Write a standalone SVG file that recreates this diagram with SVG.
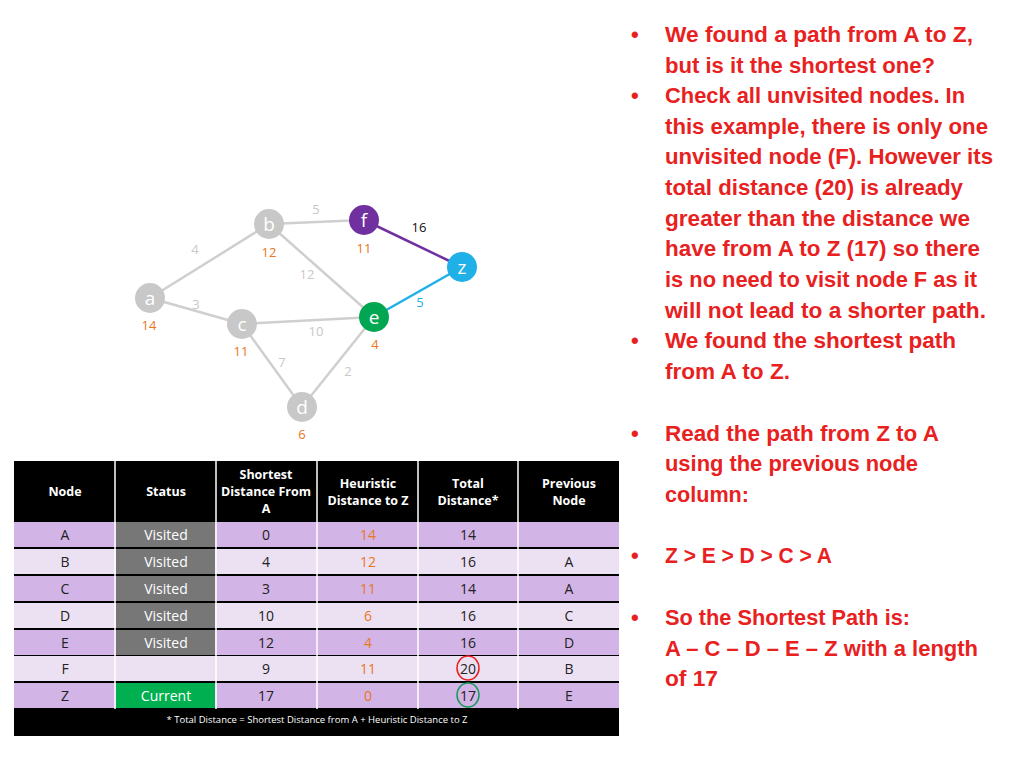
<svg xmlns="http://www.w3.org/2000/svg" width="1024" height="768" viewBox="0 0 1024 768">
<style>
.r{font-family:"Liberation Sans",Arial,sans-serif;font-weight:bold;font-size:22px;fill:#e8211f}
.n{font-family:"Open Sans","Liberation Sans",sans-serif;font-size:19px;fill:#fff;text-anchor:middle}
.w{font-family:"Open Sans","Liberation Sans",sans-serif;font-size:13px;fill:#c8c8c8;text-anchor:middle}
.h{font-family:"Open Sans","Liberation Sans",sans-serif;font-size:13px;fill:#e87722;text-anchor:middle}
.e{stroke:#cfcfcf;stroke-width:2.5;fill:none}
.th{font-family:"Open Sans","Liberation Sans",sans-serif;font-size:12.5px;font-weight:bold;fill:#fff;text-anchor:middle}
.td{font-family:"Open Sans","Liberation Sans",sans-serif;font-size:14px;fill:#222;text-anchor:middle}
</style>
<rect width="1024" height="768" fill="#fff"/>
<g id="connectors">
<line class="e" x1="150" y1="298" x2="269" y2="224"/>
<line class="e" x1="150" y1="298" x2="242" y2="324"/>
<line class="e" x1="269" y1="224" x2="364" y2="220"/>
<line class="e" x1="269" y1="224" x2="374" y2="317"/>
<line class="e" x1="242" y1="324" x2="374" y2="317"/>
<line class="e" x1="242" y1="324" x2="302" y2="407"/>
<line class="e" x1="302" y1="407" x2="374" y2="317"/>
<line x1="364" y1="220" x2="462" y2="267" stroke="#7030a0" stroke-width="2.5"/>
<line x1="374" y1="317" x2="462" y2="267" stroke="#1fb0e8" stroke-width="2.5"/>
<text class="w" x="195" y="254">4</text>
<text class="w" x="196" y="309">3</text>
<text class="w" x="316" y="214">5</text>
<text class="w" x="307" y="279">12</text>
<text class="w" x="316" y="336">10</text>
<text class="w" x="282" y="367">7</text>
<text class="w" x="348" y="376">2</text>
<text x="419" y="232" font-family="Open Sans,Liberation Sans,sans-serif" font-size="13" fill="#111" text-anchor="middle">16</text>
<text x="420" y="307" font-family="Open Sans,Liberation Sans,sans-serif" font-size="13" fill="#1fb0e8" text-anchor="middle">5</text>
</g>
<g id="node-a"><circle cx="150" cy="298" r="15" fill="#c8c8c8"/><text class="n" x="150" y="305">a</text><text class="h" x="149" y="330">14</text></g>
<g id="node-b"><circle cx="269" cy="224" r="15" fill="#c8c8c8"/><text class="n" x="269" y="231">b</text><text class="h" x="269" y="257">12</text></g>
<g id="node-f"><circle cx="364" cy="220" r="15" fill="#7030a0"/><text class="n" x="364" y="227">f</text><text class="h" x="364" y="253">11</text></g>
<g id="node-z"><circle cx="462" cy="267" r="15" fill="#1fb0e8"/><text class="n" x="462" y="274">z</text></g>
<g id="node-e"><circle cx="374" cy="317" r="15" fill="#00a651"/><text class="n" x="374" y="324">e</text><text class="h" x="375" y="349">4</text></g>
<g id="node-c"><circle cx="242" cy="324" r="15" fill="#c8c8c8"/><text class="n" x="242" y="331">c</text><text class="h" x="241" y="356">11</text></g>
<g id="node-d"><circle cx="302" cy="407" r="15" fill="#c8c8c8"/><text class="n" x="302" y="414">d</text><text class="h" x="302" y="439">6</text></g>
<g id="table">
<rect x="14" y="461" width="605" height="275" fill="#000"/>
<g fill="#d3b4e6">
<rect x="14" y="522" width="605" height="25"/><rect x="14" y="576" width="605" height="25"/><rect x="14" y="630" width="605" height="25"/><rect x="14" y="683" width="605" height="25"/>
</g>
<g fill="#ece1f3">
<rect x="14" y="549" width="605" height="25"/><rect x="14" y="603" width="605" height="25"/><rect x="14" y="656" width="605" height="25"/>
</g>
<g fill="#777">
<rect x="116" y="522" width="99" height="25"/><rect x="116" y="549" width="99" height="25"/><rect x="116" y="576" width="99" height="25"/><rect x="116" y="603" width="99" height="25"/><rect x="116" y="630" width="99" height="25"/>
</g>
<rect x="116" y="683" width="99" height="25" fill="#00b050"/>
<g stroke="#fff" stroke-width="1.5">
<line x1="115" y1="461" x2="115" y2="709"/><line x1="216" y1="461" x2="216" y2="709"/><line x1="317" y1="461" x2="317" y2="709"/><line x1="418" y1="461" x2="418" y2="709"/><line x1="518" y1="461" x2="518" y2="709"/>
</g>
<text class="th" x="65" y="496">Node</text>
<text class="th" x="166" y="496">Status</text>
<text class="th" x="266" y="479">Shortest</text><text class="th" x="266" y="496">Distance From</text><text class="th" x="266" y="513">A</text>
<text class="th" x="368" y="488">Heuristic</text><text class="th" x="368" y="505">Distance to Z</text>
<text class="th" x="468" y="488">Total</text><text class="th" x="468" y="505">Distance*</text>
<text class="th" x="569" y="488">Previous</text><text class="th" x="569" y="505">Node</text>
<g>
<text class="td" x="65" y="540">A</text><text class="td" x="266" y="540">0</text><text class="td" x="468" y="540">14</text>
<text class="td" x="65" y="567">B</text><text class="td" x="266" y="567">4</text><text class="td" x="468" y="567">16</text><text class="td" x="569" y="567">A</text>
<text class="td" x="65" y="594">C</text><text class="td" x="266" y="594">3</text><text class="td" x="468" y="594">14</text><text class="td" x="569" y="594">A</text>
<text class="td" x="65" y="621">D</text><text class="td" x="266" y="621">10</text><text class="td" x="468" y="621">16</text><text class="td" x="569" y="621">C</text>
<text class="td" x="65" y="648">E</text><text class="td" x="266" y="648">12</text><text class="td" x="468" y="648">16</text><text class="td" x="569" y="648">D</text>
<text class="td" x="65" y="674">F</text><text class="td" x="266" y="674">9</text><text class="td" x="468" y="674">20</text><text class="td" x="569" y="674">B</text>
<text class="td" x="65" y="701">Z</text><text class="td" x="266" y="701">17</text><text class="td" x="468" y="701">17</text><text class="td" x="569" y="701">E</text>
</g>
<g font-family="Open Sans,Liberation Sans,sans-serif" font-size="14" fill="#e87722" text-anchor="middle">
<text x="368" y="540">14</text><text x="368" y="567">12</text><text x="368" y="594">11</text><text x="368" y="621">6</text><text x="368" y="648">4</text><text x="368" y="674">11</text><text x="368" y="701">0</text>
</g>
<g fill="#fff" font-family="Open Sans,Liberation Sans,sans-serif" font-size="14" text-anchor="middle">
<text x="166" y="540">Visited</text><text x="166" y="567">Visited</text><text x="166" y="594">Visited</text><text x="166" y="621">Visited</text><text x="166" y="648">Visited</text><text x="166" y="701">Current</text>
</g>
<ellipse cx="468" cy="668" rx="11" ry="12" fill="none" stroke="#e8211f" stroke-width="1.5"/>
<ellipse cx="468" cy="695" rx="11" ry="12" fill="none" stroke="#1a9a5a" stroke-width="1.5"/>
<text x="317" y="723" font-family="Open Sans,Liberation Sans,sans-serif" font-size="9.5" fill="#fff" text-anchor="middle">* Total Distance = Shortest Distance from A  +  Heuristic Distance to Z</text>
</g>
<g id="text">
<g class="r">
<text x="631" y="42">•</text><text x="665" y="42" textLength="308" lengthAdjust="spacingAndGlyphs">We found a path from A to Z,</text>
<text x="665" y="73" textLength="270" lengthAdjust="spacingAndGlyphs">but is it the shortest one?</text>
<text x="631" y="103">•</text><text x="665" y="103" textLength="300" lengthAdjust="spacingAndGlyphs">Check all unvisited nodes. In</text>
<text x="665" y="134" textLength="323" lengthAdjust="spacingAndGlyphs">this example, there is only one</text>
<text x="665" y="164" textLength="328" lengthAdjust="spacingAndGlyphs">unvisited node (F). However its</text>
<text x="665" y="195" textLength="298" lengthAdjust="spacingAndGlyphs">total distance (20) is already</text>
<text x="665" y="226" textLength="305" lengthAdjust="spacingAndGlyphs">greater than the distance we</text>
<text x="665" y="256" textLength="315" lengthAdjust="spacingAndGlyphs">have from A to Z (17) so there</text>
<text x="665" y="287" textLength="312" lengthAdjust="spacingAndGlyphs">is no need to visit node F as it</text>
<text x="665" y="318" textLength="321" lengthAdjust="spacingAndGlyphs">will not lead to a shorter path.</text>
<text x="631" y="348">•</text><text x="665" y="348" textLength="291" lengthAdjust="spacingAndGlyphs">We found the shortest path</text>
<text x="665" y="379" textLength="125" lengthAdjust="spacingAndGlyphs">from A to Z.</text>
<text x="631" y="441">•</text><text x="665" y="441" textLength="274" lengthAdjust="spacingAndGlyphs">Read the path from Z to A</text>
<text x="665" y="471" textLength="253" lengthAdjust="spacingAndGlyphs">using the previous node</text>
<text x="665" y="502" textLength="84" lengthAdjust="spacingAndGlyphs">column:</text>
<text x="631" y="563">•</text><text x="665" y="563" textLength="167" lengthAdjust="spacingAndGlyphs">Z &gt; E &gt; D &gt; C &gt; A</text>
<text x="631" y="625">•</text><text x="665" y="625" textLength="245" lengthAdjust="spacingAndGlyphs">So the Shortest Path is:</text>
<text x="665" y="656" textLength="313" lengthAdjust="spacingAndGlyphs">A – C – D – E – Z with a length</text>
<text x="665" y="686" textLength="53" lengthAdjust="spacingAndGlyphs">of 17</text>
</g>
</g>
</svg>
